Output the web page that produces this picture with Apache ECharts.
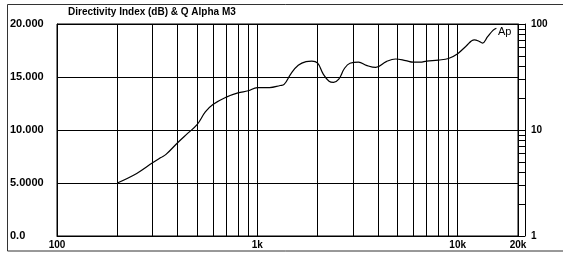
<!DOCTYPE html>
<html>
<head>
<meta charset="utf-8">
<script src="https://cdn.jsdelivr.net/npm/echarts@6/dist/echarts.min.js"></script>
<style>html,body{margin:0;padding:0;background:#fff}#c{width:563px;height:253px}</style>
</head>
<body>
<div id="c"></div>
<script>
var titleText = 'Directivity Index (dB) & Q Alpha M3';
var freqs = [200,250,300,330,350,400,450,500,550,600,700,800,900,1000,1150,1300,1360,1470,1600,1750,1870,2000,2130,2280,2400,2550,2720,2900,3200,3500,3900,4400,4900,5500,6000,6500,7000,8000,9000,10000,11000,12100,12700,13300,14100,15000,15600];
var diValues = [5.0,5.9,6.9,7.4,7.7,8.8,9.7,10.5,11.7,12.4,13.1,13.5,13.7,14.0,14.0,14.2,14.3,15.3,16.1,16.45,16.5,16.3,15.3,14.6,14.5,14.8,15.8,16.3,16.4,16.1,15.9,16.45,16.7,16.55,16.4,16.4,16.5,16.6,16.75,17.2,17.9,18.5,18.4,18.2,18.8,19.4,19.6];
var xLabelValues = [100,1000,10000,20000];
var gridFreqs = [200,300,400,500,600,700,800,900,1000,2000,3000,4000,5000,6000,7000,8000,9000,10000];
var yLabels = ['0.0','5.0000','10.000','15.000','20.000'];
var qTickValues = [1,2,3,4,5,6,7,8,9,10,20,30,40,50,60,70,80,90,100];
var qLabelValues = [1,10,100];

var chart = echarts.init(document.getElementById('c'), null, {renderer:'canvas'});
var fnt = 'Liberation Sans, Arial, sans-serif';
function fmtHz(v){ return v >= 1000 ? (v/1000) + 'k' : String(v); }
var option = {
  animation: false,
  backgroundColor: '#fff',
  grid: {left:57, right:45, top:24, bottom:17, show:true, borderColor:'#000', borderWidth:1},
  graphic: [
    {type:'rect', shape:{x:7.5, y:4.5, width:580, height:246.5}, style:{fill:'none', stroke:'#333', lineWidth:1}, z:-1},
    {type:'text', left:68, top:7, style:{text:titleText, font:'bold 10px ' + fnt, fill:'#000'}},
    {type:'text', left:498, top:26, style:{text:'Ap', font:'11px ' + fnt, fill:'#000'}}
  ],
  xAxis: {
    type:'log', logBase:10, min:100, max:20000,
    axisLine:{show:true, lineStyle:{color:'#000', width:1}},
    axisTick:{show:false},
    splitLine:{show:false},
    minorTick:{show:false},
    axisLabel:{customValues:xLabelValues, formatter:fmtHz, color:'#000', fontWeight:'bold', fontSize:10, fontFamily:fnt, margin:4}
  },
  yAxis: [
    {
      type:'value', min:0, max:20, interval:5,
      axisLine:{show:true, lineStyle:{color:'#000'}},
      axisTick:{show:false},
      splitLine:{show:true, lineStyle:{color:'#000', width:1}},
      axisLabel:{formatter:function(v){return yLabels[Math.round(v/5)];}, color:'#000', fontWeight:'bold', fontSize:11, fontFamily:fnt, align:'left', margin:47}
    },
    {
      type:'log', logBase:10, min:1, max:100, position:'right',
      axisLine:{show:true, lineStyle:{color:'#000'}},
      axisTick:{show:true, customValues:qTickValues, length:7, lineStyle:{color:'#000'}},
      splitLine:{show:false},
      axisLabel:{customValues:qLabelValues, color:'#000', fontWeight:'bold', fontSize:10, fontFamily:fnt, margin:13}
    },
    {
      type:'value', min:0, max:1, position:'right', offset:7,
      axisLine:{show:true, onZero:false, lineStyle:{color:'#000'}},
      axisTick:{show:false}, axisLabel:{show:false}, splitLine:{show:false}
    }
  ],
  series: [{
    type:'line',
    data: freqs.map(function(f,i){return [f, diValues[i]];}),
    smooth:0.4,
    showSymbol:false,
    lineStyle:{color:'#000', width:1.2},
    z:5,
    markLine:{
      silent:true, symbol:['none','none'], label:{show:false},
      lineStyle:{color:'#000', width:1, type:'solid'},
      data: gridFreqs.map(function(f){return {xAxis:f};})
    }
  }]
};
chart.setOption(option);
</script>
</body>
</html>
